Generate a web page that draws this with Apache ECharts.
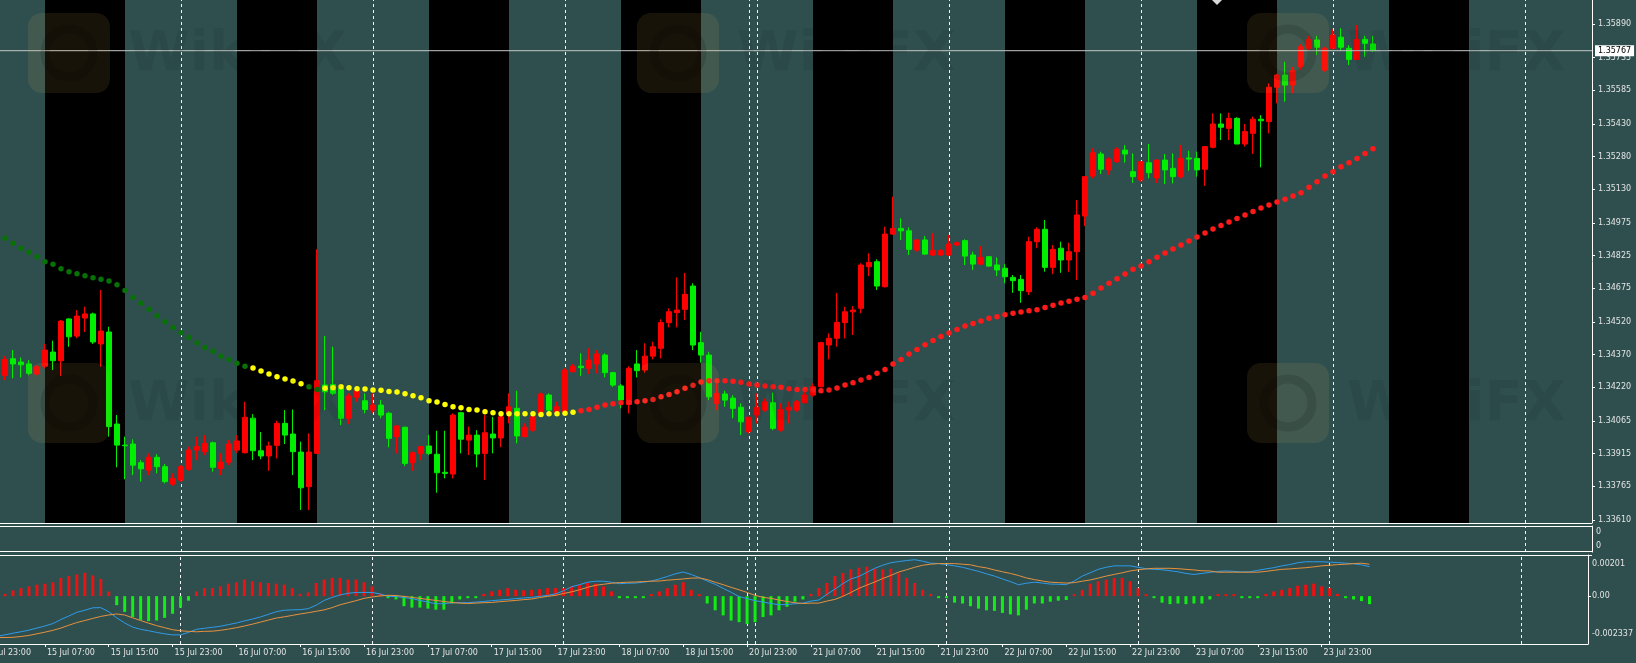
<!DOCTYPE html>
<html><head><meta charset="utf-8">
<script src="https://cdn.jsdelivr.net/npm/echarts@6/dist/echarts.min.js"></script>
<style>html,body{margin:0;padding:0;background:#2f4f4f;overflow:hidden}#c{width:1636px;height:663px}</style>
</head><body><div id="c"></div>
<script>
// ---------- calendar of H1 bars (index 0 = 15 Jul 01:00) ----------
const dayRanges = [['15 Jul',1,23],['16 Jul',0,23],['17 Jul',0,23],['18 Jul',0,22],['20 Jul',23,23],
  ['21 Jul',0,23],['22 Jul',0,23],['23 Jul',0,23],['24 Jul',0,23],['25 Jul',0,8]];
const tickLabels = ['15 Jul 07:00','15 Jul 15:00','15 Jul 23:00','16 Jul 07:00','16 Jul 15:00','16 Jul 23:00',
  '17 Jul 07:00','17 Jul 15:00','17 Jul 23:00','18 Jul 07:00','18 Jul 15:00','20 Jul 23:00','21 Jul 07:00',
  '21 Jul 15:00','21 Jul 23:00','22 Jul 07:00','22 Jul 15:00','22 Jul 23:00','23 Jul 07:00','23 Jul 15:00','23 Jul 23:00'];
const cutLabel = '14 Jul 23:00';
const daySeparators = ['16 Jul 00:00','17 Jul 00:00','18 Jul 00:00','20 Jul 23:00','21 Jul 00:00',
  '22 Jul 00:00','23 Jul 00:00','24 Jul 00:00','25 Jul 00:00'];
const sessions = [['15 Jul 07:00','15 Jul 17:00'],['16 Jul 07:00','16 Jul 17:00'],['17 Jul 07:00','17 Jul 17:00'],
  ['18 Jul 07:00','18 Jul 17:00'],['21 Jul 07:00','21 Jul 17:00'],['22 Jul 07:00','22 Jul 17:00'],
  ['23 Jul 07:00','23 Jul 17:00'],['24 Jul 07:00','24 Jul 17:00']];
const priceTicks = [1.35890,1.35735,1.35585,1.35430,1.35280,1.35130,1.34975,1.34825,1.34675,1.34520,
  1.34370,1.34220,1.34065,1.33915,1.33765,1.33610];
const macdAxisValues = [0.00201, 0, -0.002337];
const macdAxisLabels = ['0.00201','0.00','-0.002337'];

// ---------- OHLC ----------
const opens = [1.34308,1.34275,1.34351,1.34336,1.34327,1.34281,1.34317,1.34382,1.34342,1.34534,
1.34455,1.34538,1.34557,1.34419,1.34474,1.34051,1.33954,1.33959,1.33873,1.33839,
1.33898,1.33855,1.33775,1.33793,1.33843,1.33931,1.33924,1.33965,1.33847,1.33875,
1.33931,1.33919,1.34078,1.33928,1.33904,1.33953,1.34054,1.34005,1.33922,1.33763,
1.33916,1.34230,1.34232,1.34215,1.34077,1.34174,1.34158,1.34115,1.34138,1.34100,
1.33993,1.34036,1.33873,1.33916,1.33950,1.33912,1.33829,1.33821,1.34103,1.33977,
1.34000,1.33916,1.34005,1.33987,1.34100,1.34123,1.33993,1.34023,1.34097,1.34184,
1.34107,1.34107,1.34291,1.34317,1.34307,1.34327,1.34368,1.34287,1.34226,1.34141,
1.34327,1.34299,1.34363,1.34399,1.34517,1.34563,1.34578,1.34685,1.34425,1.34368,
1.34146,1.34189,1.34170,1.34128,1.34016,1.34092,1.34115,1.34149,1.34023,1.34115,
1.34115,1.34149,1.34184,1.34222,1.34414,1.34445,1.34517,1.34567,1.34583,1.34774,
1.34797,1.34682,1.34924,1.34950,1.34939,1.34851,1.34897,1.34828,1.34828,1.34828,
1.34874,1.34894,1.34828,1.34786,1.34820,1.34782,1.34767,1.34725,1.34716,1.34659,
1.34889,1.34946,1.34771,1.34859,1.34805,1.34843,1.35007,1.35191,1.35292,1.35219,
1.35257,1.35310,1.35211,1.35173,1.35252,1.35182,1.35264,1.35226,1.35188,1.35274,
1.35272,1.35222,1.35323,1.35430,1.35410,1.35456,1.35338,1.35387,1.35452,1.35441,
1.35599,1.35655,1.35609,1.35693,1.35778,1.35816,1.35678,1.35778,1.35829,1.35778,
1.35727,1.35819,1.35798];
const highs = [1.34336,1.34363,1.34391,1.34357,1.34345,1.34321,1.34419,1.34434,1.34529,1.34537,
1.34575,1.34590,1.34563,1.34667,1.34498,1.34092,1.33993,1.33981,1.33885,1.33916,
1.33912,1.33867,1.33824,1.33862,1.33947,1.33993,1.34000,1.33970,1.33916,1.33977,
1.34000,1.34153,1.34097,1.34014,1.33970,1.34066,1.34115,1.34118,1.33970,1.34008,
1.34854,1.34455,1.34406,1.34230,1.34192,1.34215,1.34192,1.34192,1.34161,1.34107,
1.34046,1.34039,1.33924,1.33950,1.34000,1.34020,1.34020,1.34100,1.34107,1.34039,
1.34023,1.34092,1.34084,1.34100,1.34192,1.34204,1.34054,1.34100,1.34195,1.34192,
1.34153,1.34307,1.34327,1.34376,1.34399,1.34391,1.34376,1.34291,1.34235,1.34317,
1.34391,1.34422,1.34429,1.34532,1.34583,1.34725,1.34746,1.34698,1.34475,1.34383,
1.34238,1.34204,1.34184,1.34146,1.34084,1.34192,1.34169,1.34195,1.34146,1.34153,
1.34161,1.34215,1.34238,1.34429,1.34468,1.34654,1.34590,1.34593,1.34790,1.34836,
1.34808,1.34958,1.35096,1.34996,1.34955,1.34900,1.34915,1.34928,1.34854,1.34920,
1.34889,1.34900,1.34843,1.34869,1.34823,1.34817,1.34786,1.34736,1.34736,1.34912,
1.34955,1.34989,1.34874,1.34889,1.34884,1.35081,1.35191,1.35318,1.35303,1.35277,
1.35323,1.35333,1.35295,1.35257,1.35338,1.35268,1.35292,1.35295,1.35333,1.35307,
1.35303,1.35329,1.35479,1.35479,1.35482,1.35461,1.35430,1.35464,1.35471,1.35617,
1.35660,1.35716,1.35693,1.35798,1.35835,1.35835,1.35785,1.35865,1.35870,1.35793,
1.35885,1.35835,1.35835];
const lows = [1.34262,1.34253,1.34261,1.34265,1.34275,1.34275,1.34307,1.34299,1.34272,1.34406,
1.34445,1.34474,1.34419,1.34314,1.33993,1.33852,1.33797,1.33816,1.33786,1.33816,
1.33824,1.33778,1.33767,1.33786,1.33836,1.33885,1.33908,1.33832,1.33816,1.33862,
1.33918,1.33916,1.33885,1.33889,1.33836,1.33893,1.33959,1.33816,1.33656,1.33656,
1.33913,1.34115,1.34184,1.34046,1.34051,1.34153,1.34100,1.34100,1.34077,1.33944,
1.33916,1.33858,1.33836,1.33885,1.33908,1.33735,1.33801,1.33801,1.33916,1.33908,
1.33852,1.33793,1.33916,1.33944,1.34054,1.33962,1.33990,1.34016,1.34084,1.34100,
1.34100,1.34100,1.34290,1.34272,1.34281,1.34284,1.34265,1.34222,1.34123,1.34100,
1.34265,1.34287,1.34348,1.34353,1.34495,1.34495,1.34529,1.34391,1.34333,1.34161,
1.34115,1.34130,1.34077,1.34000,1.34008,1.34054,1.34107,1.34023,1.34016,1.34054,
1.34107,1.34146,1.34176,1.34220,1.34348,1.34406,1.34445,1.34460,1.34560,1.34731,
1.34667,1.34679,1.34920,1.34897,1.34828,1.34843,1.34828,1.34823,1.34823,1.34823,
1.34869,1.34782,1.34759,1.34782,1.34774,1.34731,1.34698,1.34654,1.34608,1.34644,
1.34859,1.34751,1.34740,1.34746,1.34751,1.34713,1.34961,1.35180,1.35200,1.35196,
1.35252,1.35252,1.35160,1.35165,1.35180,1.35159,1.35154,1.35157,1.35180,1.35215,
1.35188,1.35145,1.35318,1.35356,1.35356,1.35338,1.35326,1.35292,1.35231,1.35387,
1.35525,1.35533,1.35571,1.35678,1.35770,1.35747,1.35670,1.35773,1.35770,1.35701,
1.35724,1.35739,1.35762];
const closes = [1.34276,1.34348,1.34327,1.34323,1.34284,1.34314,1.34391,1.34342,1.34524,1.34452,
1.34547,1.34557,1.34428,1.34478,1.34039,1.33954,1.33951,1.33862,1.33845,1.33898,
1.33855,1.33786,1.33801,1.33855,1.33931,1.33947,1.33962,1.33852,1.33875,1.33959,
1.33973,1.34082,1.33928,1.33904,1.33950,1.34054,1.34000,1.33924,1.33758,1.33922,
1.34250,1.34199,1.34192,1.34077,1.34180,1.34204,1.34118,1.34138,1.34092,1.33985,
1.34042,1.33870,1.33919,1.33947,1.33916,1.33827,1.33824,1.34092,1.33981,1.34000,
1.33913,1.34011,1.33987,1.34084,1.34130,1.33996,1.34036,1.34084,1.34189,1.34115,
1.34130,1.34299,1.34317,1.34310,1.34345,1.34373,1.34287,1.34230,1.34161,1.34307,
1.34296,1.34363,1.34406,1.34517,1.34567,1.34575,1.34647,1.34414,1.34368,1.34176,
1.34192,1.34161,1.34123,1.34061,1.34082,1.34128,1.34153,1.34031,1.34118,1.34128,
1.34153,1.34184,1.34222,1.34425,1.34445,1.34518,1.34567,1.34575,1.34782,1.34794,
1.34685,1.34924,1.34950,1.34939,1.34854,1.34897,1.34832,1.34848,1.34848,1.34878,
1.34884,1.34823,1.34786,1.34817,1.34777,1.34759,1.34728,1.34710,1.34664,1.34889,
1.34946,1.34771,1.34854,1.34805,1.34843,1.35012,1.35188,1.35298,1.35222,1.35268,
1.35314,1.35292,1.35188,1.35257,1.35206,1.35264,1.35219,1.35188,1.35272,1.35269,
1.35219,1.35326,1.35430,1.35415,1.35456,1.35338,1.35395,1.35452,1.35445,1.35599,
1.35655,1.35609,1.35675,1.35785,1.35819,1.35783,1.35778,1.35839,1.35783,1.35727,
1.35819,1.35801,1.35767];

// ---------- moving average (dots) ----------
const ma = [1.34924,1.34905,1.34882,1.34859,1.34840,1.34820,1.34797,1.34785,1.34765,1.34751,
1.34742,1.34733,1.34723,1.34716,1.34708,1.34691,1.34665,1.34632,1.34606,1.34578,
1.34549,1.34521,1.34495,1.34471,1.34449,1.34425,1.34403,1.34386,1.34363,1.34348,
1.34330,1.34317,1.34308,1.34295,1.34281,1.34268,1.34258,1.34249,1.34236,1.34222,
1.34210,1.34215,1.34218,1.34222,1.34218,1.34213,1.34212,1.34207,1.34206,1.34201,
1.34198,1.34190,1.34181,1.34172,1.34158,1.34152,1.34141,1.34130,1.34126,1.34118,
1.34115,1.34107,1.34103,1.34098,1.34098,1.34098,1.34098,1.34098,1.34095,1.34098,
1.34098,1.34100,1.34105,1.34112,1.34118,1.34128,1.34138,1.34144,1.34149,1.34151,
1.34153,1.34158,1.34164,1.34176,1.34187,1.34199,1.34215,1.34229,1.34244,1.34250,
1.34250,1.34250,1.34247,1.34243,1.34235,1.34230,1.34226,1.34222,1.34220,1.34213,
1.34210,1.34210,1.34207,1.34204,1.34207,1.34216,1.34230,1.34241,1.34253,1.34265,
1.34284,1.34302,1.34327,1.34348,1.34373,1.34394,1.34415,1.34435,1.34453,1.34469,
1.34485,1.34501,1.34513,1.34525,1.34537,1.34544,1.34553,1.34560,1.34566,1.34572,
1.34576,1.34587,1.34597,1.34607,1.34615,1.34624,1.34633,1.34652,1.34676,1.34698,
1.34719,1.34740,1.34762,1.34777,1.34797,1.34817,1.34837,1.34855,1.34874,1.34892,
1.34911,1.34929,1.34947,1.34963,1.34980,1.34996,1.35012,1.35028,1.35044,1.35058,
1.35071,1.35084,1.35099,1.35114,1.35139,1.35165,1.35191,1.35211,1.35234,1.35252,
1.35272,1.35295,1.35316];
const maStates = [['down',0,31],['flat',32,38],['down',39,40],['flat',41,72],['up',73,172]];

// ---------- MACD panel ----------
const hist = [0.00006,0.00011,0.00028,0.00039,0.00048,0.00056,0.00061,0.00068,0.00089,0.00098,
0.00106,0.00114,0.00101,0.00084,0.00023,-0.00044,-0.00077,-0.00102,-0.00116,-0.00122,
-0.00119,-0.00106,-0.00086,-0.00056,-0.00022,0.00023,0.00039,0.00039,0.00048,0.00061,
0.00068,0.00081,0.00073,0.00068,0.00064,0.00061,0.00056,0.00039,0.00011,0.00018,
0.00064,0.00081,0.00089,0.00089,0.00081,0.00081,0.00068,0.00048,0.00014,-0.00001,
-0.00016,-0.00049,-0.00056,-0.00056,-0.00061,-0.00066,-0.00066,-0.00036,-0.00016,-0.00006,
-0.00001,0.00011,0.00023,0.00031,0.00039,0.00031,0.00028,0.00031,0.00034,0.00039,
0.00039,0.00039,0.00048,0.00056,0.00064,0.00061,0.00048,0.00023,-0.00002,-0.00002,
-0.00002,-0.00001,0.00006,0.00023,0.00039,0.00056,0.00068,0.00031,0.00001,-0.00036,
-0.00069,-0.00094,-0.00119,-0.00127,-0.00136,-0.00127,-0.00102,-0.00094,-0.00069,-0.00052,
-0.00027,-0.00016,0.00011,0.00039,0.00064,0.00098,0.00114,0.00131,0.00139,0.00144,
0.00134,0.00131,0.00134,0.00114,0.00089,0.00064,0.00031,0.00011,-0.00006,-0.00007,
-0.00032,-0.00036,-0.00049,-0.00061,-0.00069,-0.00072,-0.00082,-0.00089,-0.00094,-0.00066,
-0.00036,-0.00036,-0.00027,-0.00022,-0.00019,0.00003,0.00031,0.00061,0.00073,0.00081,
0.00089,0.00089,0.00073,0.00039,0.00006,-0.00006,-0.00032,-0.00039,-0.00036,-0.00039,
-0.00036,-0.00036,-0.00016,0.00002,0.00002,0.00002,-0.00004,-0.00004,-0.00004,0.00011,
0.00023,0.00031,0.00039,0.00051,0.00056,0.00061,0.00048,0.00039,0.00011,-0.00004,
-0.00016,-0.00024,-0.00039];
const macdLine = [-0.00196,-0.00189,-0.00181,-0.00174,-0.00166,-0.00156,-0.00146,-0.00134,-0.00114,-0.00097,
-0.00079,-0.00069,-0.00057,-0.00056,-0.00076,-0.00106,-0.00131,-0.00151,-0.00162,-0.00169,
-0.00177,-0.00184,-0.00189,-0.00189,-0.00177,-0.00162,-0.00157,-0.00152,-0.00147,-0.00139,
-0.00131,-0.00121,-0.00112,-0.00102,-0.00089,-0.00076,-0.00069,-0.00067,-0.00066,-0.00061,
-0.00044,-0.00021,-0.00006,0.00006,0.00014,0.00018,0.00018,0.00018,0.00011,-0.00001,
-0.00002,-0.00007,-0.00012,-0.00021,-0.00029,-0.00037,-0.00037,-0.00032,-0.00032,-0.00032,
-0.00029,-0.00026,-0.00022,-0.00019,-0.00016,-0.00012,-0.00009,-0.00006,-0.00001,0.00004,
0.00011,0.00026,0.00046,0.00056,0.00068,0.00073,0.00073,0.00068,0.00061,0.00063,
0.00064,0.00068,0.00074,0.00084,0.00096,0.00109,0.00118,0.00106,0.00091,0.00074,
0.00058,0.00038,0.00019,-0.00002,-0.00012,-0.00022,-0.00029,-0.00036,-0.00042,-0.00041,
-0.00037,-0.00034,-0.00024,-0.00019,0.00009,0.00034,0.00061,0.00084,0.00096,0.00116,
0.00136,0.00151,0.00163,0.00169,0.00174,0.00178,0.00171,0.00161,0.00159,0.00154,
0.00148,0.00141,0.00131,0.00121,0.00109,0.00098,0.00084,0.00071,0.00056,0.00063,
0.00068,0.00064,0.00059,0.00058,0.00056,0.00074,0.00098,0.00114,0.00131,0.00141,
0.00148,0.00148,0.00148,0.00141,0.00134,0.00131,0.00129,0.00124,0.00119,0.00111,
0.00106,0.00111,0.00116,0.00121,0.00123,0.00121,0.00118,0.00119,0.00126,0.00133,
0.00139,0.00148,0.00154,0.00163,0.00168,0.00168,0.00168,0.00166,0.00164,0.00161,
0.00158,0.00153,0.00144];
const signalLine = [-0.00202,-0.00202,-0.00201,-0.00197,-0.00192,-0.00184,-0.00176,-0.00167,-0.00156,-0.00142,
-0.00129,-0.00119,-0.00109,-0.00099,-0.00092,-0.00087,-0.00092,-0.00106,-0.00119,-0.00132,
-0.00144,-0.00154,-0.00164,-0.00169,-0.00172,-0.00174,-0.00172,-0.00171,-0.00167,-0.00161,
-0.00154,-0.00146,-0.00137,-0.00127,-0.00117,-0.00107,-0.00101,-0.00094,-0.00087,-0.00081,
-0.00074,-0.00067,-0.00056,-0.00042,-0.00032,-0.00022,-0.00011,-0.00004,0.00001,0.00004,
0.00003,-0.00001,-0.00006,-0.00011,-0.00016,-0.00021,-0.00026,-0.00031,-0.00034,-0.00036,
-0.00034,-0.00032,-0.00031,-0.00027,-0.00024,-0.00021,-0.00017,-0.00014,-0.00007,-0.00001,
0.00004,0.00013,0.00021,0.00031,0.00043,0.00053,0.00058,0.00063,0.00066,0.00068,
0.00069,0.00071,0.00073,0.00074,0.00078,0.00081,0.00084,0.00088,0.00089,0.00081,
0.00068,0.00056,0.00043,0.00031,0.00018,0.00004,-0.00006,-0.00011,-0.00019,-0.00026,
-0.00032,-0.00036,-0.00034,-0.00034,-0.00024,-0.00016,-0.00001,0.00018,0.00038,0.00054,
0.00069,0.00086,0.00101,0.00118,0.00129,0.00141,0.00151,0.00156,0.00159,0.00159,
0.00159,0.00156,0.00153,0.00144,0.00138,0.00128,0.00119,0.00111,0.00101,0.00089,
0.00081,0.00074,0.00068,0.00066,0.00064,0.00066,0.00073,0.00079,0.00088,0.00098,
0.00106,0.00114,0.00123,0.00129,0.00133,0.00136,0.00136,0.00136,0.00134,0.00131,
0.00128,0.00124,0.00123,0.00117,0.00117,0.00117,0.00117,0.00117,0.00117,0.00121,
0.00126,0.00131,0.00133,0.00136,0.00139,0.00143,0.00148,0.00151,0.00154,0.00156,
0.00159,0.00161,0.00156];

// ---------- build ----------
const barTimes = [];
dayRanges.forEach(([d, a, b]) => { for (let h = a; h <= b; h++) barTimes.push(d + ' ' + String(h).padStart(2, '0') + ':00'); });
const idx = t => barTimes.indexOf(t);
const tickIdx = tickLabels.map(idx);
const sepIdx = daySeparators.map(idx);
const bid = closes[closes.length - 1];

const FONT = 'DejaVu Sans', LBL = '#e4e4e4', WHITE = '#ffffff';
const XMIN = 0.375, XMAX = 199.375;          // visible bar-index window
const PMIN = 1.33596, PMAX = 1.36000;        // main panel price range
const RIGHT = 1592;
const grids = [
  {left: 0, top: 0, width: RIGHT, height: 523},
  {left: 0, top: 526, width: RIGHT, height: 26},
  {left: 0, top: 555, width: RIGHT, height: 89}
];
const stateColor = {down: '#077007', flat: '#ffff00', up: '#ff1a1a'};

const sepLine = {
  silent: true, symbol: 'none', z: 1, animation: false,
  label: {show: false},
  lineStyle: {color: WHITE, width: 1, type: [3, 3], opacity: 0.95},
  data: sepIdx.map(i => ({xAxis: i}))
};

const xAxes = grids.map((g, k) => ({
  gridIndex: k, type: 'value', min: XMIN, max: XMAX,
  splitLine: {show: false},
  axisLine: {show: k === 2, onZero: false, lineStyle: {color: WHITE, width: 1}},
  axisTick: k === 2 ? {show: true, customValues: tickIdx, length: 3, lineStyle: {color: WHITE}} : {show: false},
  axisLabel: k === 2 ? {
    show: true, customValues: tickIdx, formatter: v => barTimes[v], align: 'left',
    color: LBL, fontSize: 8, fontFamily: FONT, margin: 5, padding: [0, 0, 0, 2]
  } : {show: false}
}));

const yAxes = [
  {
    gridIndex: 0, type: 'value', position: 'right', min: PMIN, max: PMAX,
    splitLine: {show: false},
    axisLine: {show: true, onZero: false, lineStyle: {color: WHITE}},
    axisTick: {show: true, customValues: priceTicks, length: 3, lineStyle: {color: WHITE}},
    axisLabel: {customValues: priceTicks, formatter: v => v.toFixed(5), color: LBL, fontSize: 8, fontFamily: FONT, margin: 6}
  },
  {
    gridIndex: 1, type: 'value', position: 'right', min: 0, max: 1,
    splitLine: {show: false},
    axisLine: {show: true, onZero: false, lineStyle: {color: WHITE}},
    axisTick: {show: false},
    axisLabel: {
      customValues: [0, 1], formatter: v => v === 1 ? '{t|0}' : '{b|0}', margin: 4,
      rich: {
        t: {padding: [12, 0, 0, 0], color: LBL, fontSize: 8, fontFamily: FONT},
        b: {padding: [0, 0, 12, 0], color: LBL, fontSize: 8, fontFamily: FONT}
      }
    }
  },
  {
    gridIndex: 2, type: 'value', position: 'right', min: macdAxisValues[2], max: macdAxisValues[0],
    splitLine: {show: false},
    axisLine: {show: true, onZero: false, lineStyle: {color: WHITE}},
    axisTick: {show: true, customValues: [0], length: 3, lineStyle: {color: WHITE}},
    axisLabel: {
      customValues: macdAxisValues, margin: 4,
      formatter: v => {
        const i = macdAxisValues.indexOf(v);
        return i === 0 ? '{t|' + macdAxisLabels[0] + '}' : i === 2 ? '{b|' + macdAxisLabels[2] + '}' : '{m|' + macdAxisLabels[1] + '}';
      },
      rich: {
        t: {padding: [17, 0, 0, 0], color: LBL, fontSize: 8, fontFamily: FONT},
        m: {color: LBL, fontSize: 8, fontFamily: FONT},
        b: {padding: [0, 0, 20, 0], color: LBL, fontSize: 8, fontFamily: FONT}
      }
    }
  }
];

const maSeries = Object.keys(stateColor).map(state => {
  const pts = [];
  maStates.filter(s => s[0] === state).forEach(([, a, b]) => { for (let i = a; i <= b; i++) pts.push([i, ma[i]]); });
  return {
    type: 'scatter', name: 'ma-' + state, xAxisIndex: 0, yAxisIndex: 0, z: 4,
    symbol: 'circle', symbolSize: 5.5, silent: true,
    itemStyle: {color: stateColor[state], opacity: 1},
    data: pts
  };
});

const series = [
  {
    type: 'candlestick', xAxisIndex: 0, yAxisIndex: 0, z: 3, silent: true,
    barWidth: 5,
    encode: {x: 0, y: [1, 2, 3, 4]},
    data: opens.map((o, i) => [i, o, closes[i], lows[i], highs[i]]),
    itemStyle: {color: '#ff0000', color0: '#00ee00', borderColor: '#ff0000', borderColor0: '#00ee00', borderWidth: 1},
    markArea: {
      silent: true, z: 1,
      itemStyle: {color: '#000000', opacity: 1},
      data: sessions.map(([a, b]) => [{xAxis: idx(a)}, {xAxis: idx(b)}])
    },
    markLine: sepLine
  },
  ...maSeries,
  // current bid line across the main panel, labelled at the price scale
  {
    type: 'line', xAxisIndex: 0, yAxisIndex: 0, z: 6, silent: true, symbol: 'none',
    lineStyle: {color: '#c6c6c6', width: 1},
    data: [[XMIN, bid], [XMAX, bid]],
    endLabel: {
      show: true, formatter: () => bid.toFixed(5), distance: 3,
      backgroundColor: '#ffffff', color: '#000000', fontSize: 8, fontFamily: FONT, padding: [2, 3, 1, 3]
    }
  },
  {
    type: 'line', xAxisIndex: 1, yAxisIndex: 1, silent: true, symbol: 'none',
    lineStyle: {opacity: 0}, data: [[XMIN, 0.5]], markLine: sepLine
  },
  {
    type: 'bar', xAxisIndex: 2, yAxisIndex: 2, silent: true, barWidth: 3, barMinHeight: 2, z: 2,
    data: hist.map((v, i) => ({value: [i, v], itemStyle: {color: v >= 0 ? '#ee1111' : '#11ee11'}})),
    markLine: sepLine
  },
  {
    type: 'line', xAxisIndex: 2, yAxisIndex: 2, silent: true, showSymbol: false, z: 4,
    lineStyle: {color: '#2e9bea', width: 1}, data: macdLine.map((v, i) => [i, v])
  },
  {
    type: 'line', xAxisIndex: 2, yAxisIndex: 2, silent: true, showSymbol: false, z: 4,
    lineStyle: {color: '#e8913e', width: 1}, data: signalLine.map((v, i) => [i, v])
  }
];

// panel separators + watermarks
const graphics = [];
[523.5, 526.5, 551.5, 555.5].forEach((y, k) => graphics.push({
  type: 'line', id: 'sep' + k, z: 50, silent: true,
  shape: {x1: 0, y1: y, x2: RIGHT, y2: y}, style: {stroke: WHITE, lineWidth: 1}
}));
const wmSpots = [[28, 13], [637, 13], [1247, 13], [28, 363], [637, 363], [1247, 363]];
wmSpots.forEach(([x, y], k) => {
  graphics.push({type: 'rect', id: 'wmr' + k, z: 40, silent: true,
    shape: {x: x, y: y, width: 82, height: 80, r: 14}, style: {fill: 'rgba(215,170,80,0.11)'}});
  graphics.push({type: 'circle', id: 'wmc' + k, z: 41, silent: true,
    shape: {cx: x + 41, cy: y + 40, r: 24}, style: {fill: 'none', stroke: 'rgba(0,0,0,0.12)', lineWidth: 9}});
  graphics.push({type: 'text', id: 'wmt' + k, z: 41, silent: true,
    style: {text: 'WikiFX', x: x + 100, y: y + 14, font: 'bold 56px "DejaVu Sans"', fill: 'rgba(0,0,0,0.075)'}});
});

const chart = echarts.init(document.getElementById('c'), null, {renderer: 'canvas'});
chart.setOption({
  animation: false,
  backgroundColor: '#2f4f4f',
  textStyle: {fontFamily: FONT},
  grid: grids,
  xAxis: xAxes,
  yAxis: yAxes,
  series: series,
  graphic: {elements: graphics}
});

// left-edge cut label and small object marker, placed through the axes
const cutX = chart.convertToPixel({xAxisIndex: 2}, -2);
const arrowPt = chart.convertToPixel({xAxisIndex: 0, yAxisIndex: 0}, [152.5, PMAX]);
chart.setOption({
  graphic: {elements: [
    {type: 'text', id: 'cut', z: 50, silent: true,
      style: {text: cutLabel, x: cutX + 2, y: 649, fill: LBL, font: '8px "DejaVu Sans"'}},
    {type: 'polygon', id: 'obj', z: 50, silent: true,
      shape: {points: [[arrowPt[0] - 5, arrowPt[1]], [arrowPt[0], arrowPt[1] - 5], [arrowPt[0] + 5, arrowPt[1]], [arrowPt[0], arrowPt[1] + 5]]},
      style: {fill: '#d8d8d8'}}
  ]}
});
</script>
</body></html>
